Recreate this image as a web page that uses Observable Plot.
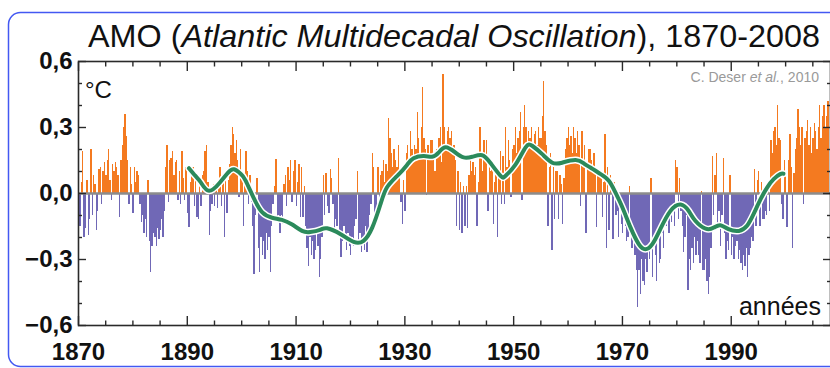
<!DOCTYPE html>
<html>
<head>
<meta charset="utf-8">
<script src="https://cdn.jsdelivr.net/npm/d3@7"></script>
<script src="https://cdn.jsdelivr.net/npm/@observablehq/plot@0.6"></script>
<style>
  html, body { margin: 0; padding: 0; background: #fff; }
  #chart { width: 830px; height: 368px; overflow: hidden; position: relative; }
</style>
</head>
<body>
<div id="chart"></div>
<script>
// ---- Data (quarterly resolution) ----
const startYear = 1870;
const perYear = 4;
const amo = [
  0.10,-0.15,0.05,0.19,   -0.20,-0.16,0.06,-0.19,  -0.12,0.20,-0.10,0.08,   0.04,-0.17,-0.08,0.11,
  0.12,-0.05,0.10,0.14,   0.08,0.15,0.20,0.06,     -0.03,0.13,0.10,0.14,    0.12,0.08,-0.11,0.15,
  0.22,0.30,0.36,0.26,    0.15,-0.05,0.12,0.04,    -0.09,0.12,0.05,0.10,    0.08,-0.05,-0.13,-0.10,
  -0.18,-0.12,-0.20,0.06, -0.22,-0.36,-0.24,-0.18, -0.20,-0.24,-0.16,-0.21, -0.17,-0.12,-0.20,-0.08,
  0.12,0.22,-0.04,0.15,   0.16,0.19,0.08,0.14,     0.15,-0.03,0.10,-0.05,   0.19,0.07,-0.03,0.12,
  -0.09,-0.155,0.05,0.11, 0.12,-0.06,0.09,-0.11,   -0.12,0.04,-0.06,0.08,   0.10,0.19,0.22,0.05,
  -0.19,-0.08,-0.05,0.04, -0.06,0.04,-0.07,0.03,   0.12,-0.06,0.07,-0.20,   0.10,-0.09,0.06,0.13,
  0.22,0.30,0.27,0.18,    0.24,0.15,-0.02,0.20,    0.10,-0.15,0.05,0.19,    0.10,-0.05,0.08,-0.04,
  -0.15,-0.37,-0.10,0.07, -0.25,-0.36,-0.20,-0.28, -0.22,-0.30,-0.18,-0.26, -0.20,-0.36,-0.15,-0.05,
  0.03,0.155,-0.12,-0.10, -0.18,-0.10,-0.14,0.04,  0.08,-0.06,0.12,0.06,    0.15,-0.04,0.10,0.15,
  -0.06,0.05,0.13,-0.11,  0.12,-0.11,0.03,-0.15,   -0.25,-0.33,-0.20,-0.28, -0.22,-0.30,-0.26,-0.18,
  -0.24,-0.38,-0.30,-0.20, 0.08,-0.10,0.09,-0.06,  -0.09,0.11,0.07,-0.05,   -0.18,-0.12,-0.15,0.16,
  -0.20,-0.29,-0.22,-0.15, -0.22,-0.26,-0.18,-0.24, -0.28,-0.20,-0.24,-0.15, -0.12,0.10,-0.22,-0.18,
  -0.27,-0.20,-0.26,-0.15, -0.27,-0.18,-0.10,-0.05, 0.18,0.12,-0.12,-0.08,  0.12,-0.10,0.08,0.10,
  0.15,0.05,0.13,0.10,    0.34,0.25,0.18,0.12,     0.20,0.15,0.12,0.22,     0.10,-0.04,-0.14,0.06,
  -0.08,0.18,0.22,0.15,   0.28,0.20,0.15,0.22,     0.20,0.37,0.25,0.18,     0.30,0.48,0.25,0.20,
  -0.01,0.22,0.15,0.24,   0.24,0.15,0.10,0.20,     0.18,0.25,0.30,0.14,     0.54,0.30,0.22,0.28,
  0.30,0.25,0.28,0.20,    0.22,0.15,-0.15,0.10,    -0.17,0.05,-0.18,0.03,   -0.15,0.03,-0.16,0.08,
  0.16,0.10,0.14,0.08,    0.12,-0.15,0.05,0.30,    0.18,0.10,0.24,0.15,     0.24,-0.08,0.15,0.10,
  0.12,-0.14,0.05,0.08,   -0.20,0.10,0.19,-0.05,   0.17,-0.05,0.30,0.12,    0.24,0.15,-0.02,0.20,
  0.22,0.30,0.18,0.25,    0.28,0.37,-0.03,0.30,    0.40,0.30,0.22,0.28,     0.25,0.30,0.20,0.27,
  0.28,0.22,0.30,0.25,    0.25,0.35,0.51,0.28,     0.22,-0.15,0.12,0.18,    -0.26,0.12,-0.12,0.10,
  0.10,-0.12,0.08,0.04,   -0.14,0.07,0.20,0.25,    0.30,0.22,0.26,0.18,     0.30,0.25,0.18,0.28,
  0.22,-0.06,0.28,0.15,   0.22,-0.18,0.12,0.20,    0.20,0.15,0.10,0.18,     0.12,-0.155,0.10,0.08,
  0.10,-0.11,0.05,0.27,   -0.25,0.12,-0.17,0.08,   0.06,-0.21,0.05,-0.10,   -0.08,-0.20,-0.05,-0.14,
  -0.18,-0.07,-0.15,-0.22, -0.20,0.03,-0.18,-0.25, -0.22,-0.28,-0.35,-0.52, -0.35,-0.46,-0.30,-0.40,
  -0.42,-0.30,-0.36,-0.25, -0.30,0.07,-0.38,-0.22, -0.28,-0.40,-0.20,-0.32, -0.30,-0.18,-0.25,-0.12,
  -0.15,-0.10,-0.18,-0.08, -0.13,-0.06,-0.15,0.15, 0.12,-0.12,0.07,-0.08,   -0.15,-0.27,-0.20,-0.10,
  -0.44,-0.30,-0.35,-0.25, -0.32,-0.20,-0.28,-0.22, -0.28,-0.32,0.01,-0.35, -0.35,-0.30,-0.40,-0.46,
  -0.38,-0.25,0.17,-0.10, 0.08,0.18,-0.15,-0.08,   -0.24,-0.10,0.16,-0.18,  -0.30,-0.22,-0.26,0.08,
  -0.28,-0.20,-0.30,-0.24, -0.22,-0.30,-0.26,-0.32, -0.35,-0.28,-0.33,-0.25, -0.38,-0.28,-0.25,-0.20,
  -0.22,0.11,-0.15,0.06,  0.10,-0.15,0.05,-0.12,   -0.12,-0.08,-0.10,0.05,  -0.08,0.24,0.18,0.28,
  0.30,0.22,0.40,0.25,    0.24,-0.05,-0.12,0.15,   0.10,-0.155,0.15,0.27,   0.12,-0.25,0.09,0.20,
  0.25,0.38,0.30,0.22,    0.30,-0.05,0.25,0.28,    0.33,0.22,0.30,0.18,     0.25,0.32,0.28,0.20,
  0.30,0.40,0.25,0.35,    0.40,0.30,0.35,0.42
];

// Smoothed (low-pass) curve
const smoothYears = [
  1890.3,1891.5,1892.5,1894.0,1896.0,1897.5,1898.6,1899.8,1900.7,1902.2,1903.8,1905.6,1907.4,1909.2,
  1911.1,1912.6,1914.4,1915.7,1918.2,1920.6,1922.4,1924.0,1925.5,1926.7,1928.6,1930.4,1931.6,1933.5,
  1935.0,1936.2,1937.5,1939.3,1940.8,1942.4,1944.2,1945.7,1947.6,1948.5,1950.3,1952.2,1953.4,1955.2,
  1957.1,1958.9,1961.4,1963.0,1964.1,1966.0,1967.5,1968.7,1970.0,1971.5,1973.0,1974.2,1975.5,1977.0,
  1978.8,1980.7,1982.2,1983.4,1985.3,1986.8,1988.0,1989.5,1991.4,1992.9,1994.1,1995.4,1996.6,1997.8,
  1999.0,1999.6
];
const smoothValues = [
  0.115,0.08,0.05,0.012,0.05,0.095,0.11,0.09,0.06,-0.02,-0.086,-0.11,-0.12,-0.14,
  -0.17,-0.175,-0.165,-0.158,-0.185,-0.22,-0.215,-0.155,-0.05,0.027,0.08,0.13,0.16,0.17,
  0.167,0.186,0.21,0.186,0.164,0.167,0.174,0.14,0.08,0.08,0.13,0.21,0.217,0.18,
  0.14,0.14,0.152,0.135,0.118,0.088,0.058,0.005,-0.064,-0.155,-0.23,-0.253,-0.23,-0.16,
  -0.08,-0.05,-0.08,-0.124,-0.16,-0.155,-0.144,-0.162,-0.17,-0.147,-0.094,-0.026,0.027,0.065,
  0.088,0.09
];

const yMajorTicks = [-0.6, -0.3, 0, 0.3, 0.6];
const yMinorTicks = [-0.5, -0.4, -0.2, -0.1, 0.1, 0.2, 0.4, 0.5];
const xMajorTicks = [1870, 1890, 1910, 1930, 1950, 1970, 1990];
const xMinorTicks = [1875,1880,1885,1895,1900,1905,1915,1920,1925,1935,1940,1945,1955,1960,1965,1975,1980,1985,1995,2000,2005];

const titleParts = ["AMO (", "Atlantic Multidecadal Oscillation", "), 1870-2008"];
const unitLabel = "°C";
const xLabel = "années";
const creditParts = ["C. Deser ", "et al.", ", 2010"];

// ---- Styles ----
const orange = "#f47a20";
const purple = "#7068b6";
const green = "#2b8a5b";
const frameColor = "#2a2a2a";
const fontFamily = "'Liberation Sans', Arial, Helvetica, sans-serif";

const bars = amo.map((v, i) => ({
  x1: startYear + i / perYear,
  x2: startYear + (i + 1) / perYear,
  zero: 0,
  v
}));
const smooth = smoothYears.map((year, i) => ({year, v: smoothValues[i]}));

const fmt = d => (d < 0 ? "\u2212" : "") + Math.abs(d).toFixed(1).replace(".", ",");

const plot = Plot.plot({
  width: 830,
  height: 368,
  marginLeft: 78,
  marginRight: 0,
  marginTop: 61,
  marginBottom: 43,
  style: {fontFamily, background: "transparent", overflow: "visible"},
  x: {domain: [1870, 2008.25], label: null},
  y: {domain: [-0.6, 0.6], label: null},
  marks: [
    Plot.rect(bars, {x1: "x1", x2: "x2", y1: "zero", y2: "v", inset: 0, shapeRendering: "crispEdges",
      fill: d => d.v >= 0 ? orange : purple}),
    Plot.ruleY([0], {stroke: "#8c8c8c", strokeWidth: 2.5}),
    Plot.line(smooth, {x: "year", y: "v", stroke: "white", strokeWidth: 7, curve: "natural"}),
    Plot.line(smooth, {x: "year", y: "v", stroke: green, strokeWidth: 4, curve: "natural"}),
    Plot.frame({stroke: frameColor, strokeWidth: 1.6}),
    // inward ticks, left/right
    Plot.axisY(yMajorTicks, {anchor: "left", tickSize: -8, fill: "none", stroke: frameColor, strokeWidth: 1.4}),
    Plot.axisY(yMinorTicks, {anchor: "left", tickSize: -4, fill: "none", stroke: frameColor, strokeWidth: 1.4}),
    Plot.axisY(yMajorTicks, {anchor: "right", tickSize: -8, fill: "none", stroke: frameColor, strokeWidth: 1.4}),
    Plot.axisY(yMinorTicks, {anchor: "right", tickSize: -4, fill: "none", stroke: frameColor, strokeWidth: 1.4}),
    // inward ticks, bottom/top
    Plot.axisX(xMajorTicks, {anchor: "bottom", tickSize: -9, fill: "none", stroke: frameColor, strokeWidth: 1.4}),
    Plot.axisX(xMinorTicks, {anchor: "bottom", tickSize: -4.5, fill: "none", stroke: frameColor, strokeWidth: 1.4}),
    Plot.axisX(xMajorTicks, {anchor: "top", tickSize: -9, fill: "none", stroke: frameColor, strokeWidth: 1.4}),
    Plot.axisX(xMinorTicks, {anchor: "top", tickSize: -4.5, fill: "none", stroke: frameColor, strokeWidth: 1.4}),
    // labels
    Plot.axisY(yMajorTicks, {anchor: "left", tickSize: 0, tickPadding: 6, tickFormat: fmt, fontSize: 24, fontWeight: "bold", fill: "#111"}),
    Plot.axisX(xMajorTicks, {anchor: "bottom", tickSize: 0, tickPadding: 17, tickFormat: d => String(d), fontSize: 24, fontWeight: "bold", fill: "#111"})
  ]
});

document.getElementById("chart").appendChild(plot);

const svg = d3.select(plot);

// rounded blue border
svg.insert("rect", ":first-child")
  .attr("x", 8.5).attr("y", 12.5)
  .attr("width", 850).attr("height", 354)
  .attr("rx", 12).attr("ry", 12)
  .attr("fill", "none")
  .attr("stroke", "#4358f2")
  .attr("stroke-width", 1.5);

// title
const title = svg.append("text")
  .attr("x", 88).attr("y", 47)
  .attr("text-anchor", "start")
  .attr("font-family", fontFamily)
  .attr("font-size", 32)
  .attr("fill", "#111")
  .attr("textLength", 732)
  .attr("lengthAdjust", "spacingAndGlyphs");
title.append("tspan").text(titleParts[0]);
title.append("tspan").attr("font-style", "italic").text(titleParts[1]);
title.append("tspan").text(titleParts[2]);

// unit label
svg.append("text")
  .attr("x", 85).attr("y", 98)
  .attr("text-anchor", "start")
  .attr("font-family", fontFamily)
  .attr("font-size", 24)
  .attr("fill", "#111")
  .text(unitLabel);

// x label
svg.append("text")
  .attr("x", 821).attr("y", 315)
  .attr("text-anchor", "end")
  .attr("font-family", fontFamily)
  .attr("font-size", 25)
  .attr("fill", "#111")
  .text(xLabel);

// credit
const credit = svg.append("text")
  .attr("x", 819).attr("y", 82)
  .attr("text-anchor", "end")
  .attr("font-family", fontFamily)
  .attr("font-size", 14)
  .attr("fill", "#9a9a9a");
credit.append("tspan").text(creditParts[0]);
credit.append("tspan").attr("font-style", "italic").text(creditParts[1]);
credit.append("tspan").text(creditParts[2]);
</script>
</body>
</html>
